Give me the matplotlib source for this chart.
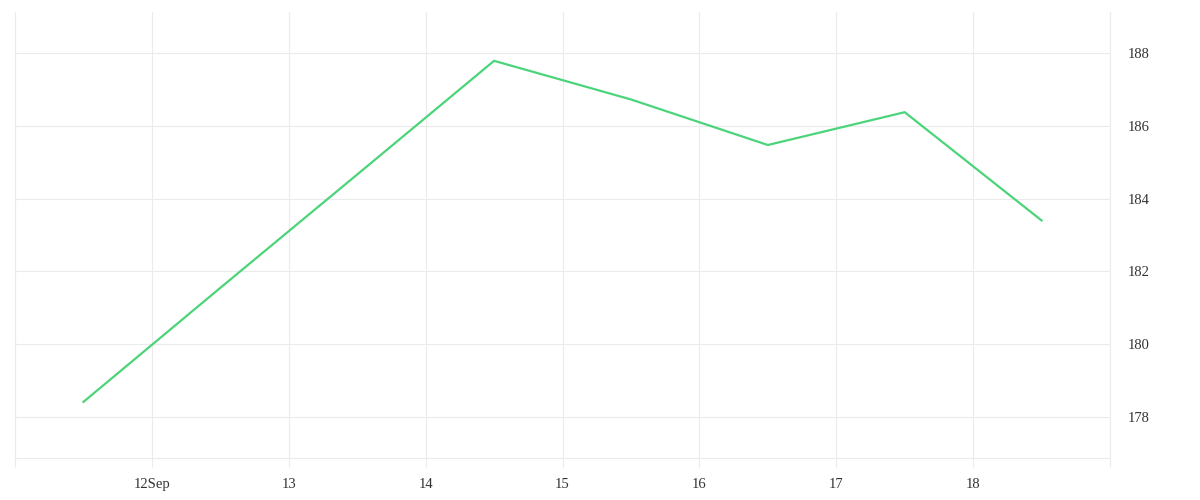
import matplotlib
matplotlib.use("Agg")
from matplotlib import pyplot as plt

# days (mid-day points) and values
days = [11.5, 12.5, 13.5, 14.5, 15.5, 16.5, 17.5, 18.5]
values = [178.42, 181.55, 184.66, 187.78, 186.72, 185.47, 186.37, 183.40]
xticks = [11, 12, 13, 14, 15, 16, 17, 18, 19]
xlabels = ["", "12Sep", "13", "14", "15", "16", "17", "18", ""]
yticks = [178, 180, 182, 184, 186, 188]

plt.rcParams['font.family'] = ['Liberation Serif', 'DejaVu Serif']

fig = plt.figure(figsize=(12, 5), dpi=100)
ax = fig.add_axes([0.0125, 0.084, 0.9125, 0.892])

ax.plot(days, values, color="#4cd47b", linewidth=1.6, solid_joinstyle="miter")

ax.set_xlim(11, 19)
ax.set_ylim(176.88, 189.12)
ax.set_xticks(xticks)
ax.set_xticklabels(xlabels)
ax.set_yticks(yticks)
ax.yaxis.tick_right()

grid = "#ebebeb"
ax.grid(True, color=grid, linewidth=0.8)
ax.set_axisbelow(True)
for s in ["left", "right", "bottom"]:
    ax.spines[s].set_color(grid)
    ax.spines[s].set_linewidth(0.8)
ax.spines["top"].set_visible(False)

ax.tick_params(axis="x", length=6.5, color=grid, width=0.8, labelsize=10.5, labelcolor="#333333", pad=8)
ax.tick_params(axis="y", length=0, labelsize=10.5, labelcolor="#333333", pad=13)

fig.savefig("out.png")
